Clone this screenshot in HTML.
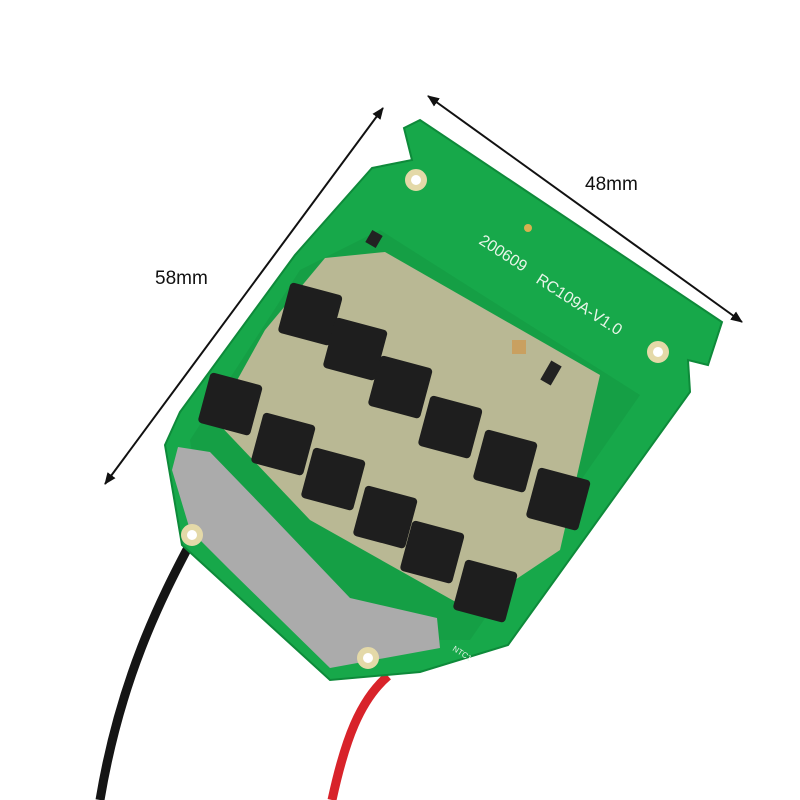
<!DOCTYPE html>
<html><head><meta charset="utf-8"><style>
html,body{margin:0;padding:0;background:#fff;width:800px;height:800px;overflow:hidden}
</style></head><body>
<svg width="800" height="800" viewBox="0 0 800 800" xmlns="http://www.w3.org/2000/svg" font-family="Liberation Sans, sans-serif">
<defs>
<marker id="ah" markerWidth="12" markerHeight="10" refX="11" refY="5" orient="auto-start-reverse" markerUnits="userSpaceOnUse"><path d="M0,0 L12,5 L0,10 z" fill="#111"/></marker>
</defs>
<rect width="800" height="800" fill="#fff"/>
<path d="M192,540 C160,600 120,680 100,800" stroke="#151515" stroke-width="9" fill="none"/>
<path d="M388,676 C360,700 345,740 332,800" stroke="#d8232a" stroke-width="9" fill="none"/>
<polygon points="372,168 412,160 404,128 420,120 722,322 708,365 688,360 690,392 508,645 420,672 330,680 182,545 165,445 180,412 295,255" fill="#17a84a" stroke="#0e8a3a" stroke-width="2"/>
<polygon points="300,270 380,230 640,395 470,640 340,640 200,500 190,440" fill="#159f45"/>
<polygon points="325,258 385,252 600,375 560,550 470,610 310,520 215,420 265,330" fill="#b9b894"/>
<polygon points="178,447 210,452 268,512 350,598 437,618 440,648 330,668 230,570 190,530 172,470" fill="#ababab"/>
<g fill="#fff" stroke="#e4d9a8" stroke-width="6">
<circle cx="416" cy="180" r="8"/><circle cx="658" cy="352" r="8"/><circle cx="192" cy="535" r="8"/><circle cx="368" cy="658" r="8"/>
</g>
<circle cx="528" cy="228" r="4" fill="#d8b050"/>
<g fill="#1e1e1e">
<g transform="rotate(15 310 315)"><rect x="283" y="288" width="54" height="52" rx="4"/></g>
<g transform="rotate(15 355 350)"><rect x="328" y="323" width="54" height="52" rx="4"/></g>
<g transform="rotate(15 400 388)"><rect x="373" y="361" width="54" height="52" rx="4"/></g>
<g transform="rotate(15 450 428)"><rect x="423" y="401" width="54" height="52" rx="4"/></g>
<g transform="rotate(15 505 462)"><rect x="478" y="435" width="54" height="52" rx="4"/></g>
<g transform="rotate(15 558 500)"><rect x="531" y="473" width="54" height="52" rx="4"/></g>
<g transform="rotate(15 230 405)"><rect x="203" y="378" width="54" height="52" rx="4"/></g>
<g transform="rotate(15 283 445)"><rect x="256" y="418" width="54" height="52" rx="4"/></g>
<g transform="rotate(15 333 480)"><rect x="306" y="453" width="54" height="52" rx="4"/></g>
<g transform="rotate(15 385 518)"><rect x="358" y="491" width="54" height="52" rx="4"/></g>
<g transform="rotate(15 432 553)"><rect x="405" y="526" width="54" height="52" rx="4"/></g>
<g transform="rotate(15 485 592)"><rect x="458" y="565" width="54" height="52" rx="4"/></g>
</g>
<g fill="#222"><rect x="368" y="232" width="12" height="14" transform="rotate(30 374 239)"/><rect x="545" y="362" width="12" height="22" transform="rotate(30 551 373)"/><rect x="512" y="340" width="14" height="14" fill="#c9a060"/></g>
<text x="478" y="243" fill="#e8f5e8" font-size="16" transform="rotate(33 478 243)">200609</text>
<text x="535" y="282" fill="#e8f5e8" font-size="16" transform="rotate(33 535 282)">RC109A-V1.0</text>
<text x="452" y="650" fill="#e8f5e8" font-size="8" transform="rotate(33 452 650)">NTC1</text>
<line x1="105" y1="484" x2="383" y2="108" stroke="#111" stroke-width="2" marker-end="url(#ah)" marker-start="url(#ah)"/>
<line x1="428" y1="96" x2="742" y2="322" stroke="#111" stroke-width="2" marker-end="url(#ah)" marker-start="url(#ah)"/>
<text x="155" y="284" font-size="19" fill="#111">58mm</text>
<text x="585" y="190" font-size="19" fill="#111">48mm</text>
</svg>
</body></html>
